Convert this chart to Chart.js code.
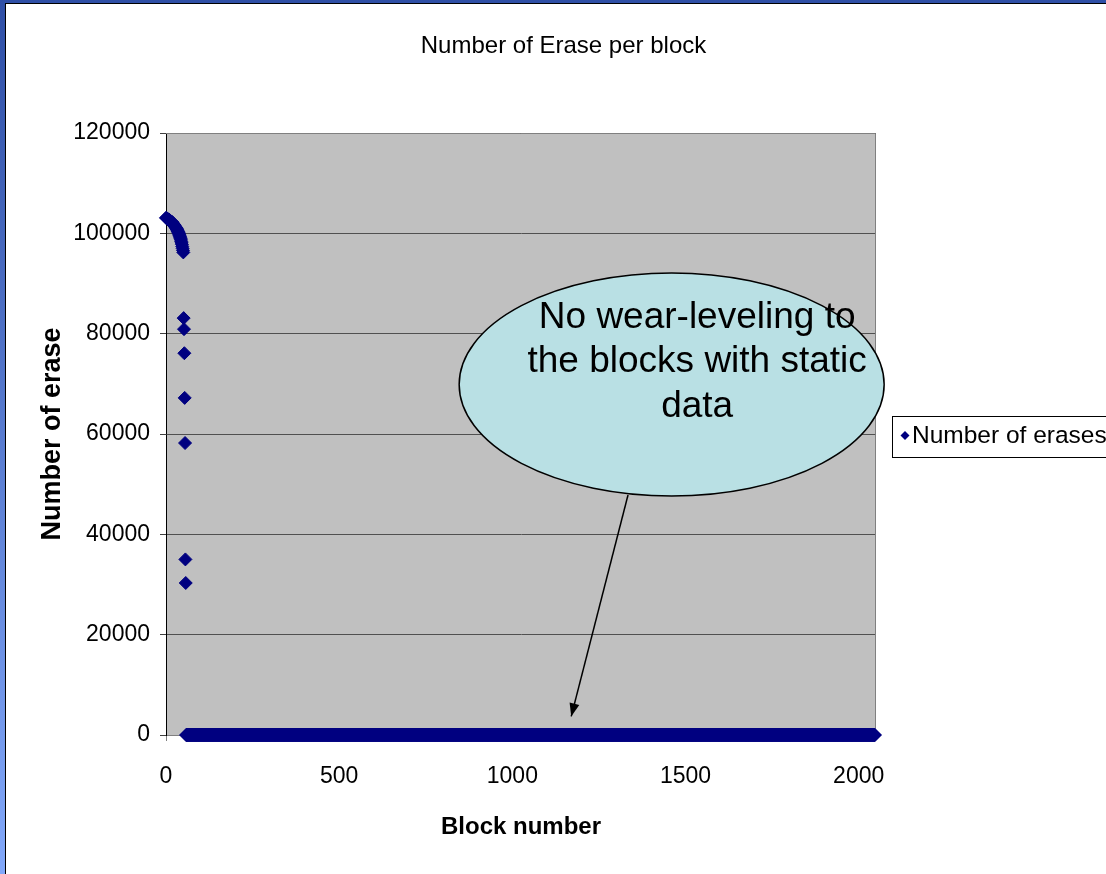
<!DOCTYPE html>
<html>
<head>
<meta charset="utf-8">
<script src="https://cdn.jsdelivr.net/npm/chart.js@4.4.1/dist/chart.umd.min.js"></script>
<style>
  html, body {
    margin: 0;
    padding: 0;
    width: 1106px;
    height: 874px;
    overflow: hidden;
    background: linear-gradient(to bottom, #2f4fa6, #82a8fa);
  }
  #sheet {
    position: absolute;
    left: 5px;
    top: 3px;
    width: 1101px;
    height: 871px;
    background: #fff;
    border-left: 1px solid #000;
    border-top: 1px solid #000;
    overflow: hidden;
  }
  canvas { display: block; }
</style>
</head>
<body>
<div id="sheet"><canvas id="chart" width="1115" height="870"></canvas></div>
<script>
// Texts
const chartTitle = 'Number of Erase per block';
const xAxisTitle = 'Block number';
const yAxisTitle = 'Number of erase';
const seriesName = 'Number of erases';
const calloutLines = ['No wear-leveling to', 'the blocks with static', 'data'];

// Flash layout: 2048 blocks, numbered 0..2047
const blockCount = 2048;

// Erase counts of the blocks that take all the writes (blocks 0..57)
const wornBlockErases = [
  103100, 103050, 103000, 102950, 102900, 102850, 102800, 102750, 102700, 102650,
  102600, 102550, 102500, 102450, 102400, 102350, 102300, 102250, 102200, 102100,
  102000, 101900, 101800, 101700, 101600, 101500, 101400, 101300, 101200, 101100,
  101000, 100900, 100750, 100600, 100450, 100300, 100150, 100000, 99800, 99600,
  99400, 99200, 98950, 98700, 98400, 98100, 97800, 97400, 97000, 96600,
  96200, 83100, 80900, 76100, 67200, 58200, 35000, 30300
];
// Every remaining block holds static data and is never erased
const staticBlockErases = 0;

// Axis ticks
const xTickValues = [0, 500, 1000, 1500, 2000];
const yTickValues = [0, 20000, 40000, 60000, 80000, 100000, 120000];
const xAxisMax = 2050;
const yAxisMax = 120000;

// Callout anchors, in data units (block, erases)
const calloutCenter = { block: 1460, erases: 69870 };
const arrowTail = { block: 1334, erases: 47840 };
const arrowTip = { block: 1170, erases: 3700 };

const FONT = '"Liberation Sans", Arial, sans-serif';

const points = [];
for (let b = 0; b < blockCount; b++) {
  points.push({ x: b, y: b < wornBlockErases.length ? wornBlockErases[b] : staticBlockErases });
}

// Silver plot area with a grey frame on top and right
const plotFrame = {
  id: 'plotFrame',
  beforeDraw(chart) {
    const { ctx, chartArea: a } = chart;
    ctx.save();
    ctx.fillStyle = '#c0c0c0';
    ctx.fillRect(a.left, a.top, a.right - a.left, a.bottom - a.top);
    ctx.restore();
  },
  beforeDatasetsDraw(chart) {
    const { ctx, chartArea: a } = chart;
    ctx.save();
    ctx.strokeStyle = '#808080';
    ctx.lineWidth = 1;
    ctx.beginPath();
    ctx.moveTo(a.left, a.top + 0.5);
    ctx.lineTo(a.right - 0.5, a.top + 0.5);
    ctx.lineTo(a.right - 0.5, a.bottom);
    ctx.stroke();
    ctx.restore();
  }
};

// Boxed legend to the right of the plot
const boxedLegend = {
  id: 'boxedLegend',
  afterDraw(chart) {
    const { ctx } = chart;
    const ds = chart.data.datasets[0];
    const left = 886, top = 412, height = 41;
    const cx = 899, cy = top + height / 2 - 1, r = 4.5;
    ctx.save();
    ctx.fillStyle = '#fff';
    ctx.fillRect(left, top, 400, height);
    ctx.strokeStyle = '#000';
    ctx.lineWidth = 1;
    ctx.strokeRect(left + 0.5, top + 0.5, 400, height);
    ctx.fillStyle = ds.backgroundColor;
    ctx.beginPath();
    ctx.moveTo(cx - r, cy);
    ctx.lineTo(cx, cy - r);
    ctx.lineTo(cx + r, cy);
    ctx.lineTo(cx, cy + r);
    ctx.closePath();
    ctx.fill();
    ctx.fillStyle = '#000';
    ctx.font = '24.5px ' + FONT;
    ctx.textBaseline = 'middle';
    ctx.textAlign = 'left';
    ctx.fillText(ds.label, cx + 7, cy + 1);
    ctx.restore();
  }
};

// Oval callout with an arrow pointing at the never-erased blocks
const ovalCallout = {
  id: 'ovalCallout',
  afterDraw(chart) {
    const { ctx } = chart;
    const xs = chart.scales.x, ys = chart.scales.y;
    const cx = xs.getPixelForValue(calloutCenter.block);
    const cy = ys.getPixelForValue(calloutCenter.erases);
    const tx = xs.getPixelForValue(arrowTail.block);
    const ty = ys.getPixelForValue(arrowTail.erases);
    const px = xs.getPixelForValue(arrowTip.block);
    const py = ys.getPixelForValue(arrowTip.erases);
    ctx.save();
    // arrow shaft
    ctx.strokeStyle = '#000';
    ctx.lineWidth = 1.5;
    ctx.beginPath();
    ctx.moveTo(tx, ty);
    ctx.lineTo(px, py);
    ctx.stroke();
    // arrow head
    const ang = Math.atan2(py - ty, px - tx);
    const len = 13, half = 5;
    ctx.fillStyle = '#000';
    ctx.beginPath();
    ctx.moveTo(px, py);
    ctx.lineTo(px - len * Math.cos(ang) + half * Math.sin(ang), py - len * Math.sin(ang) - half * Math.cos(ang));
    ctx.lineTo(px - len * Math.cos(ang) - half * Math.sin(ang), py - len * Math.sin(ang) + half * Math.cos(ang));
    ctx.closePath();
    ctx.fill();
    // oval
    ctx.beginPath();
    ctx.ellipse(cx, cy, 212.5, 111.5, 0, 0, Math.PI * 2);
    ctx.fillStyle = '#b9e0e4';
    ctx.fill();
    ctx.lineWidth = 1.5;
    ctx.stroke();
    // text
    ctx.fillStyle = '#000';
    ctx.font = '37px ' + FONT;
    ctx.textAlign = 'center';
    ctx.textBaseline = 'alphabetic';
    calloutLines.forEach((line, i) => {
      ctx.fillText(line, cx + 25.5, cy - 56.5 + i * 44.5);
    });
    ctx.restore();
  }
};

new Chart(document.getElementById('chart'), {
  type: 'scatter',
  data: {
    datasets: [{
      label: seriesName,
      data: points,
      pointStyle: 'rectRot',
      pointRadius: 6.5,
      pointHoverRadius: 6.5,
      backgroundColor: '#000080',
      borderColor: '#000080',
      borderWidth: 1,
      clip: false
    }]
  },
  options: {
    responsive: false,
    animation: false,
    events: [],
    layout: { padding: 0 },
    plugins: {
      legend: { display: false },
      tooltip: { enabled: false },
      title: {
        display: true,
        text: chartTitle,
        color: '#000',
        font: { family: FONT, size: 24, weight: 'normal', lineHeight: 1.2 },
        padding: { top: 27.5, bottom: 72.7 }
      }
    },
    scales: {
      x: {
        type: 'linear',
        min: 0,
        max: xAxisMax,
        afterBuildTicks(s) { s.ticks = xTickValues.map(v => ({ value: v })); },
        afterFit(s) { s.height = 139; },
        grid: { drawOnChartArea: false, drawTicks: true, tickLength: 6, color: '#808080' },
        border: { color: '#808080' },
        ticks: {
          color: '#000',
          font: { family: FONT, size: 23, lineHeight: 1.2 },
          padding: 22,
          maxRotation: 0,
          callback: v => String(v)
        },
        title: {
          display: true,
          text: xAxisTitle,
          color: '#000',
          font: { family: FONT, size: 24, weight: 'bold', lineHeight: 1.2 },
          padding: { top: 0, bottom: 32.6 }
        }
      },
      y: {
        min: 0,
        max: yAxisMax,
        afterBuildTicks(s) { s.ticks = yTickValues.map(v => ({ value: v })); },
        afterFit(s) { s.width = 160; },
        grid: { color: '#505050', tickLength: 6, tickColor: '#404040' },
        border: { color: '#000' },
        ticks: {
          color: '#000',
          font: { family: FONT, size: 23, lineHeight: 1.2 },
          padding: 10,
          callback: v => String(v)
        },
        title: {
          display: true,
          text: yAxisTitle,
          color: '#000',
          font: { family: FONT, size: 27, weight: 'bold', lineHeight: 1.2 },
          padding: { top: 30, bottom: 0 }
        }
      },
      // empty right-hand axis that keeps the legend column free
      legendColumn: {
        type: 'linear',
        position: 'right',
        display: true,
        afterFit(s) { s.width = 245; },
        grid: { drawOnChartArea: false, drawTicks: false },
        border: { display: false },
        ticks: { display: false }
      }
    }
  },
  plugins: [plotFrame, boxedLegend, ovalCallout]
});
</script>
</body>
</html>
